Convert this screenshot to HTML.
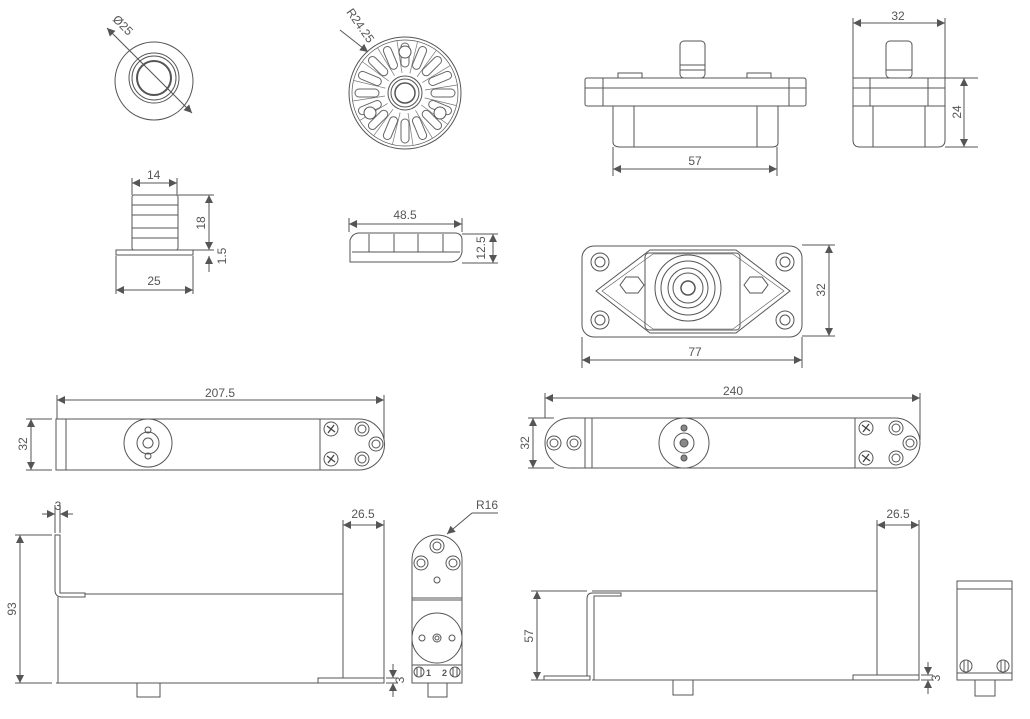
<!DOCTYPE html>
<html><head><meta charset="utf-8"><style>
html,body{margin:0;padding:0;background:#fff;}
svg{display:block}
text{font-family:"Liberation Sans",sans-serif;font-size:12px;fill:#555;}
</style></head><body>
<svg width="1030" height="719" viewBox="0 0 1030 719" xmlns="http://www.w3.org/2000/svg">
<defs>
<marker id="a" viewBox="0 0 10 10" refX="10" refY="5" markerWidth="11" markerHeight="8" orient="auto-start-reverse" markerUnits="userSpaceOnUse"><path d="M0,0 L10,5 L0,10 z" fill="#555"/></marker>
<g id="slot"><rect x="-4" y="-50" width="8" height="24" rx="4" fill="none" stroke="#666" stroke-width="1"/><line x1="-8" y1="-52" x2="-3" y2="-20" stroke="#777" stroke-width="0.7"/></g>
<g id="scr"><circle r="7" fill="none" stroke="#555"/><path d="M-4,-3 L4,3 M-3,4 L3,-4" stroke="#444" stroke-width="1.3"/></g>
</defs>
<g fill="none" stroke="#555" stroke-width="1">
<circle cx="154" cy="81" r="39"/><circle cx="154" cy="78" r="25"/><circle cx="154" cy="78" r="22"/><circle cx="154" cy="78" r="17" stroke-width="2"/>
<line x1="107" y1="28" x2="192" y2="113" marker-start="url(#a)" marker-end="url(#a)"/>
<circle cx="405" cy="93" r="56"/><circle cx="405" cy="93" r="53" stroke-width="0.7"/>
<circle cx="405" cy="93" r="17"/><circle cx="405" cy="93" r="14"/><circle cx="405" cy="93" r="10" stroke-width="1.5"/>
<g transform="translate(405,93)">
<use href="#slot" transform="rotate(0)"/><use href="#slot" transform="rotate(22.5)"/><use href="#slot" transform="rotate(45)"/><use href="#slot" transform="rotate(67.5)"/><use href="#slot" transform="rotate(90)"/><use href="#slot" transform="rotate(112.5)"/><use href="#slot" transform="rotate(135)"/><use href="#slot" transform="rotate(157.5)"/><use href="#slot" transform="rotate(180)"/><use href="#slot" transform="rotate(202.5)"/><use href="#slot" transform="rotate(225)"/><use href="#slot" transform="rotate(247.5)"/><use href="#slot" transform="rotate(270)"/><use href="#slot" transform="rotate(292.5)"/><use href="#slot" transform="rotate(315)"/><use href="#slot" transform="rotate(337.5)"/>
</g>
<circle cx="405" cy="52" r="6" fill="#fff"/><circle cx="370" cy="113" r="6" fill="#fff"/><circle cx="440" cy="113" r="6" fill="#fff"/>
<line x1="340" y1="30" x2="368" y2="52" marker-end="url(#a)"/>
<rect x="132" y="195" width="46" height="55" rx="2"/>
<line x1="132" y1="205" x2="178" y2="205"/><line x1="132" y1="215" x2="178" y2="215"/><line x1="132" y1="228" x2="178" y2="228"/><line x1="132" y1="238" x2="178" y2="238"/>
<rect x="116" y="250" width="77" height="5"/>
<line x1="132" y1="178" x2="132" y2="195"/><line x1="177" y1="178" x2="177" y2="195"/>
<line x1="132" y1="183" x2="177" y2="183" marker-start="url(#a)" marker-end="url(#a)"/>
<line x1="178" y1="195" x2="214" y2="195"/><line x1="193" y1="250" x2="214" y2="250"/>
<line x1="209" y1="195" x2="209" y2="250" marker-start="url(#a)" marker-end="url(#a)"/>
<line x1="209" y1="272" x2="209" y2="256" marker-end="url(#a)"/>
<line x1="116" y1="256" x2="116" y2="294"/><line x1="193" y1="256" x2="193" y2="294"/>
<line x1="116" y1="290" x2="193" y2="290" marker-start="url(#a)" marker-end="url(#a)"/>
<path d="M350,262 L350,240 Q352,234 358,233 L456,233 Q462,234 462,240 L462,252 Q460,262 450,262 Z"/>
<line x1="369" y1="234" x2="369" y2="252"/><line x1="443" y1="234" x2="443" y2="252"/><line x1="394" y1="234" x2="394" y2="252"/><line x1="418" y1="234" x2="418" y2="252"/>
<line x1="352" y1="252" x2="460" y2="252"/>
<line x1="349" y1="218" x2="349" y2="232"/><line x1="462" y1="218" x2="462" y2="232"/>
<line x1="349" y1="224" x2="462" y2="224" marker-start="url(#a)" marker-end="url(#a)"/>
<line x1="462" y1="234" x2="498" y2="234"/><line x1="462" y1="263" x2="498" y2="263"/>
<line x1="493" y1="234" x2="493" y2="263" marker-start="url(#a)" marker-end="url(#a)"/>
<rect x="680" y="41" width="25" height="37" rx="4"/><line x1="680" y1="65" x2="705" y2="65"/><line x1="680" y1="70" x2="705" y2="70"/>
<rect x="618" y="73" width="24" height="5"/><rect x="747" y="73" width="24" height="5"/>
<rect x="585" y="78" width="221" height="28" rx="2"/><line x1="585" y1="88" x2="806" y2="88"/><line x1="603" y1="78" x2="603" y2="106"/><line x1="789" y1="78" x2="789" y2="106"/>
<path d="M613,106 L613,143 Q614,147 620,147 L772,147 Q778,147 778,143 L778,106"/>
<line x1="634" y1="106" x2="634" y2="147"/><line x1="757" y1="106" x2="757" y2="147"/>
<line x1="613" y1="147" x2="613" y2="176"/><line x1="777" y1="147" x2="777" y2="176"/>
<line x1="613" y1="169" x2="777" y2="169" marker-start="url(#a)" marker-end="url(#a)"/>
<rect x="886" y="41" width="26" height="37" rx="4"/><line x1="886" y1="70" x2="912" y2="70"/>
<path d="M853,78 L945,78 L945,140 Q945,147 938,147 L860,147 Q853,147 853,140 Z"/>
<line x1="853" y1="88" x2="945" y2="88"/><line x1="853" y1="106" x2="945" y2="106"/><line x1="870" y1="78" x2="870" y2="106"/><line x1="928" y1="78" x2="928" y2="106"/><line x1="873" y1="106" x2="873" y2="147"/><line x1="925" y1="106" x2="925" y2="147"/>
<line x1="853" y1="18" x2="853" y2="78"/><line x1="945" y1="18" x2="945" y2="78"/>
<line x1="853" y1="23" x2="945" y2="23" marker-start="url(#a)" marker-end="url(#a)"/>
<line x1="945" y1="78" x2="978" y2="78"/><line x1="945" y1="147" x2="978" y2="147"/>
<line x1="964" y1="78" x2="964" y2="147" marker-start="url(#a)" marker-end="url(#a)"/>
<rect x="582" y="246" width="220" height="91" rx="12"/>
<path d="M650,250 L736,250 L790,291 L736,333 L650,333 L596,291 Z"/>
<path d="M653,254 L733,254 L784,291 L733,329 L653,329 L602,291 Z" stroke-width="0.6"/>
<rect x="645" y="253" width="95" height="77" rx="4"/>
<circle cx="688" cy="288" r="33"/><circle cx="688" cy="288" r="27"/><circle cx="688" cy="288" r="20"/><circle cx="688" cy="288" r="15"/><circle cx="688" cy="288" r="7" stroke-width="1.5"/>
<path d="M620,285 l6,-8 h12 l6,8 l-6,8 h-12 z"/><path d="M744,285 l6,-8 h12 l6,8 l-6,8 h-12 z"/>
<circle cx="600" cy="262" r="9"/><circle cx="600" cy="262" r="5"/><circle cx="785" cy="262" r="9"/><circle cx="785" cy="262" r="5"/>
<circle cx="600" cy="320" r="9"/><circle cx="600" cy="320" r="5"/><circle cx="785" cy="320" r="9"/><circle cx="785" cy="320" r="5"/>
<line x1="802" y1="245" x2="835" y2="245"/><line x1="802" y1="336" x2="835" y2="336"/>
<line x1="829" y1="245" x2="829" y2="336" marker-start="url(#a)" marker-end="url(#a)"/>
<line x1="582" y1="337" x2="582" y2="368"/><line x1="802" y1="337" x2="802" y2="368"/>
<line x1="582" y1="360" x2="802" y2="360" marker-start="url(#a)" marker-end="url(#a)"/>
<line x1="57" y1="395" x2="57" y2="419"/><line x1="384" y1="395" x2="384" y2="440"/>
<line x1="57" y1="400" x2="384" y2="400" marker-start="url(#a)" marker-end="url(#a)"/>
<path d="M56,419 L359,419 A25.5,25.5 0 0 1 359,470 L56,470 Z"/>
<line x1="66" y1="419" x2="66" y2="470"/><line x1="320" y1="419" x2="320" y2="470"/>
<circle cx="148" cy="443" r="24"/><circle cx="148" cy="443" r="11"/><circle cx="148" cy="443" r="5"/><circle cx="148" cy="430" r="3"/><circle cx="148" cy="456" r="3"/>
<use href="#scr" x="331" y="429"/><use href="#scr" x="331" y="459"/>
<circle cx="362" cy="429" r="7"/><circle cx="362" cy="429" r="4"/><circle cx="362" cy="459" r="7"/><circle cx="362" cy="459" r="4"/><circle cx="376" cy="444" r="7"/><circle cx="376" cy="444" r="4"/>
<line x1="26" y1="419" x2="52" y2="419"/><line x1="26" y1="470" x2="52" y2="470"/>
<line x1="31" y1="419" x2="31" y2="470" marker-start="url(#a)" marker-end="url(#a)"/>
<line x1="545" y1="393" x2="545" y2="418"/><line x1="920" y1="393" x2="920" y2="440"/>
<line x1="545" y1="398" x2="920" y2="398" marker-start="url(#a)" marker-end="url(#a)"/>
<path d="M570,418 L895,418 A25,25 0 0 1 895,468 L570,468 A25,25 0 0 1 570,418 Z"/>
<line x1="585" y1="418" x2="585" y2="468"/><line x1="592" y1="418" x2="592" y2="468"/><line x1="855" y1="418" x2="855" y2="468"/>
<circle cx="684" cy="443" r="25"/><circle cx="684" cy="443" r="10"/><circle cx="684" cy="443" r="4" fill="#888"/><circle cx="684" cy="428" r="3" fill="#888"/><circle cx="684" cy="458" r="3" fill="#888"/>
<circle cx="554" cy="443" r="7"/><circle cx="554" cy="443" r="4"/><circle cx="574" cy="443" r="7"/><circle cx="574" cy="443" r="4"/>
<use href="#scr" x="866" y="428"/><use href="#scr" x="866" y="458"/>
<circle cx="896" cy="428" r="7"/><circle cx="896" cy="428" r="4"/><circle cx="896" cy="458" r="7"/><circle cx="896" cy="458" r="4"/><circle cx="910" cy="443" r="7"/><circle cx="910" cy="443" r="4"/>
<line x1="528" y1="418" x2="554" y2="418"/><line x1="528" y1="468" x2="554" y2="468"/>
<line x1="533" y1="418" x2="533" y2="468" marker-start="url(#a)" marker-end="url(#a)"/>
<path d="M55,535 L60,535 L60,593 L85,593 L85,597 L62,597 Q55,597 55,590 Z"/>
<line x1="58" y1="597" x2="58" y2="683"/><line x1="85" y1="594" x2="343" y2="594"/>
<line x1="343" y1="520" x2="343" y2="678"/><line x1="384" y1="520" x2="384" y2="678"/>
<line x1="56" y1="683" x2="384" y2="683"/><rect x="318" y="678" width="66" height="5"/>
<rect x="137" y="683" width="23" height="14"/>
<line x1="343" y1="525" x2="384" y2="525" marker-start="url(#a)" marker-end="url(#a)"/>
<line x1="42" y1="514" x2="55" y2="514" marker-end="url(#a)"/><line x1="73" y1="514" x2="60" y2="514" marker-end="url(#a)"/>
<line x1="55" y1="505" x2="55" y2="533"/><line x1="60" y1="505" x2="60" y2="533"/>
<line x1="15" y1="535" x2="52" y2="535"/><line x1="15" y1="683" x2="52" y2="683"/>
<line x1="20" y1="535" x2="20" y2="683" marker-start="url(#a)" marker-end="url(#a)"/>
<line x1="393" y1="664" x2="393" y2="678" marker-end="url(#a)"/><line x1="393" y1="697" x2="393" y2="683" marker-end="url(#a)"/>
<line x1="386" y1="678" x2="398" y2="678"/><line x1="386" y1="683" x2="398" y2="683"/>
<path d="M412,683 L412,560 A25,25 0 0 1 462,560 L462,683 Z"/>
<line x1="412" y1="598" x2="462" y2="598"/><line x1="412" y1="600" x2="462" y2="600"/>
<circle cx="437" cy="546" r="7"/><circle cx="437" cy="546" r="4"/><circle cx="421" cy="563" r="7"/><circle cx="421" cy="563" r="4"/><circle cx="453" cy="563" r="7"/><circle cx="453" cy="563" r="4"/><circle cx="437" cy="580" r="3"/>
<circle cx="437" cy="638" r="25"/><circle cx="437" cy="638" r="4"/><circle cx="437" cy="638" r="2"/><circle cx="422" cy="638" r="3"/><circle cx="452" cy="638" r="3"/>
<line x1="412" y1="665" x2="462" y2="665"/>
<circle cx="419" cy="672" r="5"/><line x1="417" y1="667" x2="417" y2="677"/><line x1="421" y1="667" x2="421" y2="677"/>
<circle cx="455" cy="672" r="5"/><line x1="453" y1="667" x2="453" y2="677"/><line x1="457" y1="667" x2="457" y2="677"/>
<path d="M428,683 L428,697 L447,697 L447,683"/>
<line x1="498" y1="513" x2="472" y2="513"/><line x1="472" y1="513" x2="447" y2="534" marker-end="url(#a)"/>
<path d="M544,676 L590,676 L590,680 L544,680 Z"/>
<path d="M587,676 L587,599 Q587,593 592,593 L621,593 L621,596 L594,596 L594,680"/>
<line x1="592" y1="591" x2="877" y2="591"/><line x1="877" y1="520" x2="877" y2="675"/><line x1="919" y1="520" x2="919" y2="675"/>
<line x1="592" y1="680" x2="919" y2="680"/><rect x="853" y="675" width="66" height="5"/>
<rect x="673" y="680" width="20" height="15"/>
<line x1="877" y1="525" x2="919" y2="525" marker-start="url(#a)" marker-end="url(#a)"/>
<line x1="531" y1="591" x2="587" y2="591"/><line x1="531" y1="680" x2="544" y2="680"/>
<line x1="537" y1="591" x2="537" y2="680" marker-start="url(#a)" marker-end="url(#a)"/>
<line x1="928" y1="662" x2="928" y2="675" marker-end="url(#a)"/><line x1="928" y1="694" x2="928" y2="680" marker-end="url(#a)"/>
<line x1="921" y1="675" x2="933" y2="675"/><line x1="921" y1="680" x2="933" y2="680"/>
<rect x="957" y="581" width="55" height="99"/>
<line x1="957" y1="589" x2="1012" y2="589"/><line x1="957" y1="673" x2="1012" y2="673"/>
<circle cx="966" cy="666" r="6"/><line x1="964" y1="660" x2="964" y2="672"/><line x1="968" y1="660" x2="968" y2="672"/>
<circle cx="1003" cy="666" r="6"/><line x1="1001" y1="660" x2="1001" y2="672"/><line x1="1005" y1="660" x2="1005" y2="672"/>
<path d="M975,680 L975,696 L995,696 L995,680"/>
</g>
<text x="0" y="0" transform="translate(112,20) rotate(45)">Ø25</text>
<text x="0" y="0" transform="translate(346,12) rotate(55)">R24.25</text>
<text x="147" y="179">14</text>
<text transform="translate(205,223) rotate(-90)" text-anchor="middle">18</text>
<text transform="translate(226,256) rotate(-90)" text-anchor="middle">1.5</text>
<text x="154" y="285" text-anchor="middle">25</text>
<text x="405" y="219" text-anchor="middle">48.5</text>
<text transform="translate(485,248) rotate(-90)" text-anchor="middle">12.5</text>
<text x="695" y="165" text-anchor="middle">57</text>
<text x="898" y="20" text-anchor="middle">32</text>
<text transform="translate(961,112) rotate(-90)" text-anchor="middle">24</text>
<text transform="translate(825,290) rotate(-90)" text-anchor="middle">32</text>
<text x="695" y="356" text-anchor="middle">77</text>
<text x="220" y="397" text-anchor="middle">207.5</text>
<text transform="translate(27,444) rotate(-90)" text-anchor="middle">32</text>
<text x="733" y="395" text-anchor="middle">240</text>
<text transform="translate(529,443) rotate(-90)" text-anchor="middle">32</text>
<text x="58" y="510" text-anchor="middle">3</text>
<text x="363" y="518" text-anchor="middle">26.5</text>
<text transform="translate(16,609) rotate(-90)" text-anchor="middle">93</text>
<text transform="translate(404,680) rotate(-90)" text-anchor="middle">3</text>
<text x="487" y="509" text-anchor="middle">R16</text>
<text x="426" y="676" style="font-size:9px;font-weight:bold">1</text><text x="442" y="676" style="font-size:9px;font-weight:bold">2</text>
<text x="898" y="518" text-anchor="middle">26.5</text>
<text transform="translate(533,636) rotate(-90)" text-anchor="middle">57</text>
<text transform="translate(940,678) rotate(-90)" text-anchor="middle">3</text>
</svg>
</body></html>
